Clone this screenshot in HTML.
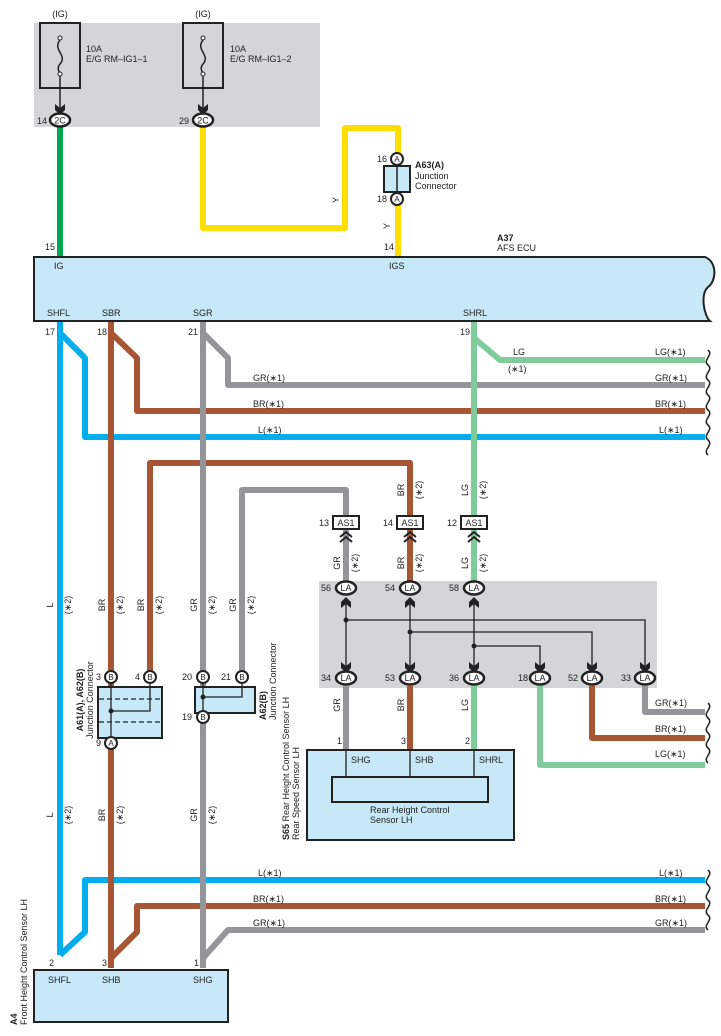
<!DOCTYPE html>
<html><head><meta charset="utf-8"><style>
html,body{margin:0;padding:0;background:#fff;}
svg{display:block;font-family:"Liberation Sans",sans-serif;}
</style></head><body>
<svg width="721" height="1036" viewBox="0 0 721 1036" xmlns="http://www.w3.org/2000/svg">
<defs>
<g id="arr"><path d="M-5,-8 L0,-4 L5,-8 L5,-2 L0,3 L-5,-2 Z" fill="#222"/></g>
<g id="arrU"><path d="M-5,8 L0,4 L5,8 L5,2 L0,-3 L-5,2 Z" fill="#222"/></g>
</defs>
<rect x="34" y="23" width="286" height="104" fill="#d4d5d7"/>
<rect x="40" y="23" width="40" height="65" fill="none" stroke="#222" stroke-width="2"/>
<rect x="183" y="23" width="40" height="65" fill="none" stroke="#222" stroke-width="2"/>
<g fill="none" stroke="#222" stroke-width="1.5">
<path d="M60,40 c-8,10 8,15 0,24 c-4,5 0,8 0,10"/>
<path d="M203,40 c-8,10 8,15 0,24 c-4,5 0,8 0,10"/>
<line x1="60" y1="74" x2="60" y2="108"/><line x1="203" y1="74" x2="203" y2="108"/>
</g>
<circle cx="60" cy="38" r="2" fill="#fff" stroke="#222"/><circle cx="60" cy="74" r="2" fill="#fff" stroke="#222"/>
<circle cx="203" cy="38" r="2" fill="#fff" stroke="#222"/><circle cx="203" cy="74" r="2" fill="#fff" stroke="#222"/>
<use href="#arr" x="60" y="112"/><use href="#arr" x="203" y="112"/>
<g font-size="9" fill="#222">
<text x="60" y="17" text-anchor="middle">(IG)</text><text x="203" y="17" text-anchor="middle">(IG)</text>
<text x="86" y="52">10A</text><text x="86" y="62">E/G RM–IG1–1</text>
<text x="230" y="52">10A</text><text x="230" y="62">E/G RM–IG1–2</text>
</g>

<g fill="none" stroke-width="6" stroke-linejoin="round">
<path d="M60,127 V258" stroke="#00a650"/>
<path d="M203,127 V228 H345 V128 H398 V258" stroke="#ffde00"/>
<path d="M60,321 V955" stroke="#00aeef"/>
<path d="M60,333 L85,358 V437 H705" stroke="#00aeef"/>
<path d="M60,955 L85,932 V880 H705" stroke="#00aeef"/>
<path d="M111,321 V968" stroke="#a65535"/>
<path d="M111,333 L137,358 V411 H705" stroke="#a65535"/>
<path d="M111,958 L137,932 V906 H705" stroke="#a65535"/>
<path d="M150,677 V463 H410 V520" stroke="#a65535"/>
<path d="M203,321 V968" stroke="#939598"/>
<path d="M203,333 L228,358 V385 H705" stroke="#939598"/>
<path d="M203,958 L228,930 H705" stroke="#939598"/>
<path d="M242,677 V490 H346 V520" stroke="#939598"/>
<path d="M474,321 V520" stroke="#7fcb9a"/>
<path d="M474,338 L500,360 H705" stroke="#7fcb9a"/>
<path d="M346,530 V582" stroke="#939598"/>
<path d="M410,530 V582" stroke="#a65535"/>
<path d="M474,530 V582" stroke="#7fcb9a"/>
</g>
<path d="M34,257 H705 C718,262 716,282 708,287 C700,294 704,316 710,321 H34 Z" fill="#c6e8f7" stroke="#222" stroke-width="2"/>
<g stroke="#222" stroke-width="2.5" fill="#fff"><ellipse cx="60" cy="120" rx="10" ry="6.5"/><ellipse cx="203" cy="120" rx="10" ry="6.5"/></g>
<g font-size="9" fill="#222">
<text x="60" y="123.5" text-anchor="middle">2C</text><text x="203" y="123.5" text-anchor="middle">2C</text>
<text x="37" y="124">14</text><text x="179" y="124">29</text>
<text x="45" y="250">15</text><text x="384" y="250">14</text>
<text x="54" y="269">IG</text><text x="389" y="269">IGS</text>
<text x="497" y="241" font-weight="bold">A37</text><text x="497" y="251">AFS ECU</text>
<text x="47" y="316">SHFL</text><text x="102" y="316">SBR</text><text x="193" y="316">SGR</text><text x="463" y="316">SHRL</text>
<text x="45" y="335">17</text><text x="97" y="335">18</text><text x="188" y="335">21</text><text x="460" y="335">19</text>
</g>
<rect x="384" y="166" width="26" height="26" fill="#c6e8f7" stroke="#222" stroke-width="2"/>
<line x1="397" y1="166" x2="397" y2="192" stroke="#222" stroke-width="1.5"/>
<g stroke="#222" stroke-width="2" fill="#fff"><circle cx="397" cy="159" r="6"/><circle cx="397" cy="199" r="6"/></g>
<g font-size="9" fill="#222">
<text x="397" y="162" text-anchor="middle" font-size="8">A</text><text x="397" y="202" text-anchor="middle" font-size="8">A</text>
<text x="377" y="162">16</text><text x="377" y="202">18</text>
<text x="415" y="168" font-weight="bold">A63(A)</text><text x="415" y="179">Junction</text><text x="415" y="189">Connector</text>
<text transform="translate(339,200) rotate(-90)" text-anchor="middle">Y</text>
<text transform="translate(390,226) rotate(-90)" text-anchor="middle">Y</text>
</g>
<g font-size="9" fill="#222">
<text x="513" y="355">LG</text><text x="508" y="372">(∗1)</text>
<text x="655" y="355">LG(∗1)</text><text x="655" y="381">GR(∗1)</text><text x="655" y="407">BR(∗1)</text><text x="659" y="433">L(∗1)</text>
<text x="253" y="381">GR(∗1)</text><text x="253" y="407">BR(∗1)</text><text x="258" y="433">L(∗1)</text>
<text x="659" y="876">L(∗1)</text><text x="655" y="902">BR(∗1)</text><text x="655" y="926">GR(∗1)</text>
<text x="258" y="876">L(∗1)</text><text x="253" y="902">BR(∗1)</text><text x="253" y="926">GR(∗1)</text>
<text x="655" y="706">GR(∗1)</text><text x="655" y="732">BR(∗1)</text><text x="655" y="757">LG(∗1)</text>
</g>
<g font-size="9" fill="#222" text-anchor="middle">
<text transform="translate(53,605) rotate(-90)">L</text><text transform="translate(71,605) rotate(-90)">(∗2)</text>
<text transform="translate(105,605) rotate(-90)">BR</text><text transform="translate(123,605) rotate(-90)">(∗2)</text>
<text transform="translate(144,605) rotate(-90)">BR</text><text transform="translate(162,605) rotate(-90)">(∗2)</text>
<text transform="translate(197,605) rotate(-90)">GR</text><text transform="translate(215,605) rotate(-90)">(∗2)</text>
<text transform="translate(236,605) rotate(-90)">GR</text><text transform="translate(254,605) rotate(-90)">(∗2)</text>
<text transform="translate(53,815) rotate(-90)">L</text><text transform="translate(71,815) rotate(-90)">(∗2)</text>
<text transform="translate(105,815) rotate(-90)">BR</text><text transform="translate(123,815) rotate(-90)">(∗2)</text>
<text transform="translate(197,815) rotate(-90)">GR</text><text transform="translate(215,815) rotate(-90)">(∗2)</text>
<text transform="translate(404,490) rotate(-90)">BR</text><text transform="translate(422,490) rotate(-90)">(∗2)</text>
<text transform="translate(468,490) rotate(-90)">LG</text><text transform="translate(486,490) rotate(-90)">(∗2)</text>
<text transform="translate(340,563) rotate(-90)">GR</text><text transform="translate(358,563) rotate(-90)">(∗2)</text>
<text transform="translate(404,563) rotate(-90)">BR</text><text transform="translate(422,563) rotate(-90)">(∗2)</text>
<text transform="translate(468,563) rotate(-90)">LG</text><text transform="translate(486,563) rotate(-90)">(∗2)</text>
<text transform="translate(340,705) rotate(-90)">GR</text>
<text transform="translate(404,705) rotate(-90)">BR</text>
<text transform="translate(468,705) rotate(-90)">LG</text>
</g>
<g stroke="#222" stroke-width="2" fill="#fff">
<rect x="333" y="516" width="26" height="13"/><rect x="397" y="516" width="26" height="13"/><rect x="461" y="516" width="26" height="13"/>
</g>
<g font-size="9" fill="#222">
<text x="346" y="526" text-anchor="middle">AS1</text><text x="410" y="526" text-anchor="middle">AS1</text><text x="474" y="526" text-anchor="middle">AS1</text>
<text x="319" y="526">13</text><text x="383" y="526">14</text><text x="447" y="526">12</text>
</g>
<g fill="none" stroke="#222" stroke-width="2">
<path d="M340,537 l6,-5 l6,5 M340,542 l6,-5 l6,5"/>
<path d="M404,537 l6,-5 l6,5 M404,542 l6,-5 l6,5"/>
<path d="M468,537 l6,-5 l6,5 M468,542 l6,-5 l6,5"/>
</g>
<rect x="319" y="581" width="338" height="107" fill="#d4d5d7"/>
<g fill="none" stroke-width="6" stroke-linejoin="round">
<path d="M346,686 V752" stroke="#939598"/>
<path d="M410,686 V752" stroke="#a65535"/>
<path d="M474,686 V752" stroke="#7fcb9a"/>
<path d="M540,686 V765 H705" stroke="#7fcb9a"/>
<path d="M592,686 V738 H705" stroke="#a65535"/>
<path d="M645,686 V712 H705" stroke="#939598"/>
</g>
<g fill="none" stroke="#222" stroke-width="1.3">
<path d="M346,600 V668 M410,600 V668 M474,600 V668"/>
<path d="M346,620 H645 V668 M410,632 H592 V668 M474,646 H540 V668"/>
</g>
<g fill="#222"><circle cx="346" cy="620" r="2.5"/><circle cx="410" cy="632" r="2.5"/><circle cx="474" cy="646" r="2.5"/></g>
<use href="#arrU" x="346" y="600"/><use href="#arrU" x="410" y="600"/><use href="#arrU" x="474" y="600"/>
<use href="#arr" x="346" y="670"/><use href="#arr" x="410" y="670"/><use href="#arr" x="474" y="670"/>
<use href="#arr" x="540" y="670"/><use href="#arr" x="592" y="670"/><use href="#arr" x="645" y="670"/>
<g stroke="#222" stroke-width="2.5" fill="#fff">
<ellipse cx="346" cy="588" rx="10" ry="6.5"/><ellipse cx="410" cy="588" rx="10" ry="6.5"/><ellipse cx="474" cy="588" rx="10" ry="6.5"/>
<ellipse cx="346" cy="678" rx="10" ry="6.5"/><ellipse cx="410" cy="678" rx="10" ry="6.5"/><ellipse cx="474" cy="678" rx="10" ry="6.5"/>
<ellipse cx="540" cy="678" rx="10" ry="6.5"/><ellipse cx="592" cy="678" rx="10" ry="6.5"/><ellipse cx="645" cy="678" rx="10" ry="6.5"/>
</g>
<g font-size="9" fill="#222">
<g text-anchor="middle">
<text x="346" y="591">LA</text><text x="410" y="591">LA</text><text x="474" y="591">LA</text>
<text x="346" y="681">LA</text><text x="410" y="681">LA</text><text x="474" y="681">LA</text>
<text x="540" y="681">LA</text><text x="592" y="681">LA</text><text x="645" y="681">LA</text>
</g>
<text x="321" y="591">56</text><text x="385" y="591">54</text><text x="449" y="591">58</text>
<text x="321" y="681">34</text><text x="385" y="681">53</text><text x="449" y="681">36</text>
<text x="518" y="681">18</text><text x="568" y="681">52</text><text x="621" y="681">33</text>
</g>
<rect x="307" y="750" width="207" height="90" fill="#c6e8f7" stroke="#222" stroke-width="2"/>
<rect x="332" y="777" width="156" height="25" fill="#c6e8f7" stroke="#222" stroke-width="2"/>
<g stroke="#222" stroke-width="1.3"><line x1="346" y1="750" x2="346" y2="777"/><line x1="410" y1="750" x2="410" y2="777"/><line x1="474" y1="750" x2="474" y2="777"/></g>
<g font-size="9" fill="#222">
<text x="337" y="744">1</text><text x="401" y="744">3</text><text x="465" y="744">2</text>
<text x="351" y="763">SHG</text><text x="415" y="763">SHB</text><text x="479" y="763">SHRL</text>
<text x="370" y="813">Rear Height Control</text><text x="370" y="823">Sensor LH</text>
<text transform="translate(289,840) rotate(-90)"><tspan font-weight="bold">S65</tspan> Rear Height Control Sensor LH</text>
<text transform="translate(299,840) rotate(-90)">Rear Speed Sensor LH</text>
</g>
<rect x="98" y="687" width="64" height="51" fill="#c6e8f7" stroke="#222" stroke-width="2"/>
<g stroke="#222" stroke-width="1.3" fill="none">
<path d="M99,699 H161 M99,722 H161" stroke-dasharray="5,3"/>
<path d="M111,684 V738 M111,711 H150 V684"/>
</g>
<circle cx="111" cy="711" r="2.5" fill="#222"/>
<rect x="195" y="687" width="60" height="26" fill="#c6e8f7" stroke="#222" stroke-width="2"/>
<path d="M203,684 V713 M203,697 H242 V684" stroke="#222" stroke-width="1.3" fill="none"/>
<circle cx="203" cy="697" r="2.5" fill="#222"/>
<g stroke="#222" stroke-width="2" fill="#fff">
<circle cx="111" cy="677" r="6"/><circle cx="150" cy="677" r="6"/><circle cx="111" cy="743" r="6"/>
<circle cx="203" cy="677" r="6"/><circle cx="242" cy="677" r="6"/><circle cx="203" cy="717" r="6"/>
</g>
<g font-size="8" fill="#222" text-anchor="middle">
<text x="111" y="680">B</text><text x="150" y="680">B</text><text x="111" y="746">A</text>
<text x="203" y="680">B</text><text x="242" y="680">B</text><text x="203" y="720">B</text>
</g>
<g font-size="9" fill="#222">
<text x="96" y="680">3</text><text x="135" y="680">4</text><text x="96" y="746">9</text>
<text x="182" y="680">20</text><text x="221" y="680">21</text><text x="182" y="720">19</text>
<text transform="translate(83,700) rotate(-90)" text-anchor="middle" font-weight="bold">A61(A), A62(B)</text>
<text transform="translate(93,700) rotate(-90)" text-anchor="middle">Junction Connector</text>
<text transform="translate(266,720) rotate(-90)" font-weight="bold">A62(B)</text>
<text transform="translate(276,720) rotate(-90)">Junction Connector</text>
</g>
<rect x="34" y="970" width="194" height="52" fill="#c6e8f7" stroke="#222" stroke-width="2"/>
<g font-size="9" fill="#222">
<text x="49" y="966">2</text><text x="102" y="966">3</text><text x="194" y="966">1</text>
<text x="48" y="983">SHFL</text><text x="102" y="983">SHB</text><text x="193" y="983">SHG</text>
<text transform="translate(17,1025) rotate(-90)" font-weight="bold">A4</text>
<text transform="translate(27,1025) rotate(-90)">Front Height Control Sensor LH</text>
</g>
<g fill="none" stroke="#222" stroke-width="1.5">
<path d="M708,350 c6,5 -6,10 0,15 c6,5 -6,10 0,15 c6,5 -6,10 0,15 c6,5 -6,10 0,15 c6,5 -6,10 0,15 c6,5 -6,10 0,15 c6,5 -6,10 0,15"/>
<path d="M708,703 c6,5 -6,10 0,15 c6,5 -6,10 0,15 c6,5 -6,10 0,15 c6,5 -6,10 0,15"/>
<path d="M708,870 c6,5 -6,10 0,15 c6,5 -6,10 0,15 c6,5 -6,10 0,15 c6,5 -6,10 0,15"/>
</g>
</svg>
</body></html>
